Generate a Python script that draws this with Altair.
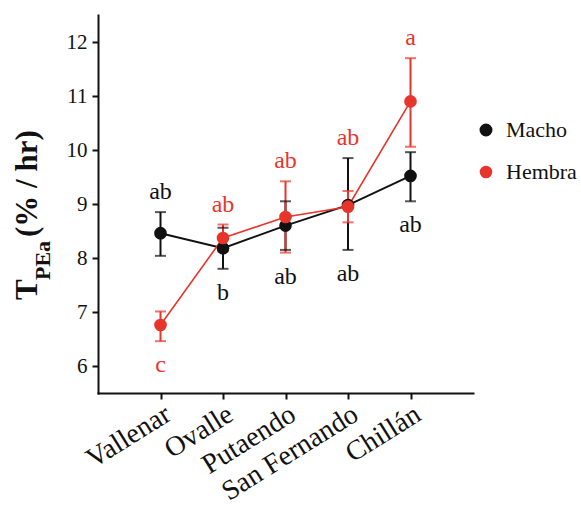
import altair as alt
import pandas as pd

# Sampling sites (north to south) and sexes
sites = ["Vallenar", "Ovalle", "Putaendo", "San Fernando", "Chillán"]
sexes = ["Macho", "Hembra"]
colors = ["#111111", "#e8352b"]

# Mean T_PEa (% / hr) with error-bar bounds and significance letters
macho_mean = [8.46, 8.18, 8.60, 8.98, 9.52]
macho_lo = [8.04, 7.80, 8.15, 8.15, 9.05]
macho_hi = [8.85, 8.56, 9.05, 9.85, 9.96]
macho_letter = ["ab", "b", "ab", "ab", "ab"]
macho_side = ["above", "below", "below", "below", "below"]

hembra_mean = [6.76, 8.37, 8.76, 8.95, 10.90]
hembra_lo = [6.46, 8.12, 8.10, 8.66, 10.06]
hembra_hi = [7.01, 8.62, 9.42, 9.24, 11.70]
hembra_letter = ["c", "ab", "ab", "ab", "a"]
hembra_side = ["below", "above", "above", "above", "above"]

rows = []
for sex, mean, lo, hi, letter, side in [
    ("Macho", macho_mean, macho_lo, macho_hi, macho_letter, macho_side),
    ("Hembra", hembra_mean, hembra_lo, hembra_hi, hembra_letter, hembra_side),
]:
    for i, site in enumerate(sites):
        rows.append(dict(site=site, sex=sex, mean=mean[i], lo=lo[i], hi=hi[i],
                         letter=letter[i], side=side[i]))
df = pd.DataFrame(rows)

# letters sit above the highest / below the lowest bar end at each site
top = df.groupby("site")["hi"].max()
bottom = df.groupby("site")["lo"].min()
df["anchor"] = [top[s] if side == "above" else bottom[s]
                for s, side in zip(df["site"], df["side"])]

FONT = "Liberation Serif"

x = alt.X("site:N", sort=sites, scale=alt.Scale(type="point", padding=1),
          axis=alt.Axis(title=None, labelAngle=-32, labelFontSize=28,
                        labelFont=FONT, labelColor="#111", tickSize=6,
                        labelPadding=1, domainWidth=2, tickWidth=2,
                        domainColor="#111", tickColor="#111"))
yscale = alt.Scale(domain=[5.5, 12.5], nice=False, zero=False)
yaxis = alt.Axis(title=None, values=[6, 7, 8, 9, 10, 11, 12], format="d",
                 labelFontSize=21, labelFont=FONT, labelColor="#111",
                 tickSize=6, labelPadding=5, domainWidth=2, tickWidth=2,
                 domainColor="#111", tickColor="#111", grid=False)
legend = alt.Legend(title=None, orient="none", legendX=377, legendY=104,
                    symbolType="circle", symbolSize=120, symbolStrokeWidth=0,
                    symbolOpacity=1,
                    labelFont=FONT, labelFontSize=22, labelColor="#111",
                    rowPadding=20, padding=0, labelOffset=9)
color = alt.Color("sex:N", scale=alt.Scale(domain=sexes, range=colors),
                  legend=legend)

base = alt.Chart(df)

lines = base.mark_line().encode(
    x=x, y=alt.Y("mean:Q", scale=yscale, axis=yaxis), color=color,
    strokeWidth=alt.StrokeWidth("sex:N", scale=alt.Scale(domain=sexes, range=[2, 1.6]),
                                legend=None),
    detail="sex:N",
)
bars = base.mark_rule(strokeWidth=2).encode(
    x=x, y=alt.Y("lo:Q", scale=yscale), y2="hi:Q", color=color)
cap_hi = base.mark_tick(size=11, thickness=2).encode(
    x=x, y=alt.Y("hi:Q", scale=yscale), color=color)
cap_lo = base.mark_tick(size=11, thickness=2).encode(
    x=x, y=alt.Y("lo:Q", scale=yscale), color=color)
points = base.mark_circle(size=160, opacity=1).encode(
    x=x, y=alt.Y("mean:Q", scale=yscale), color=color)
above = base.transform_filter(alt.datum.side == "above").mark_text(
    dy=-20, baseline="middle", font=FONT, fontSize=24).encode(
    x=x, y=alt.Y("anchor:Q", scale=yscale), text="letter:N", color=color)
below = base.transform_filter(alt.datum.side == "below").mark_text(
    dy=24, baseline="middle", font=FONT, fontSize=24).encode(
    x=x, y=alt.Y("anchor:Q", scale=yscale), text="letter:N", color=color)

# y-axis title with subscript, drawn as rotated text pieces
title_df = pd.DataFrame({"t": ["T", "PEa", "(% / hr)"],
                         "px": [-61, -48, -61],
                         "py": [285, 265, 222],
                         "fs": [31, 22, 31]})
title_parts = []
for _, r in title_df.iterrows():
    title_parts.append(
        alt.Chart(pd.DataFrame({"t": [r["t"]]})).mark_text(
            angle=270, align="left", baseline="alphabetic", font=FONT,
            fontSize=int(r["fs"]), fontWeight="bold", color="#111").encode(
            text="t:N", x=alt.value(int(r["px"])), y=alt.value(int(r["py"])))
    )

chart = alt.layer(lines, bars, cap_hi, cap_lo, points, above, below,
                  *title_parts).properties(
    width=375, height=378,
    autosize=alt.AutoSizeParams(type="none"),
    padding={"left": 98, "top": 15, "right": 108, "bottom": 119},
).configure_view(stroke=None).configure_axis(domainCap="square")

chart.save("out.html", embed_options={"renderer": "svg", "actions": False})
